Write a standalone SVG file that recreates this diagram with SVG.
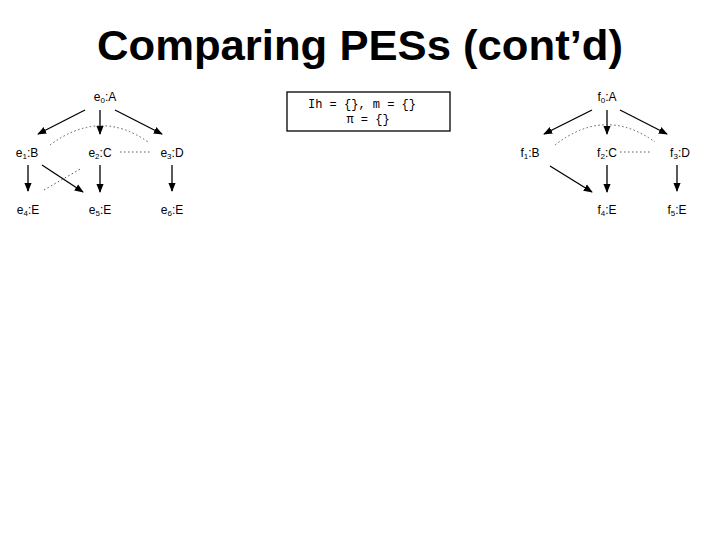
<svg xmlns="http://www.w3.org/2000/svg" width="720" height="540" viewBox="0 0 720 540">
<defs><marker id="ah" viewBox="0 0 10 10" refX="9" refY="5" markerWidth="7" markerHeight="7" orient="auto"><path d="M0,1 L10,5 L0,9 Z" fill="#000"/></marker></defs>
<style>
.n{font-family:"Liberation Sans",Arial,sans-serif;font-size:12px;fill:#000;text-anchor:middle}
.a{stroke:#000;stroke-width:1.3;fill:none;marker-end:url(#ah)}
.d{stroke:#555;stroke-width:1;stroke-dasharray:1.5 2.5;fill:none}
</style>
<rect width="720" height="540" fill="#fff"/>
<text x="360" y="60" font-family="Liberation Sans,Arial,sans-serif" font-size="42" font-weight="bold" text-anchor="middle" textLength="526" lengthAdjust="spacingAndGlyphs">Comparing PESs (cont’d)</text>
<g id="connectors">
<line class="a" x1="85" y1="110" x2="38" y2="134"/>
<line class="a" x1="100" y1="110" x2="100" y2="134"/>
<line class="a" x1="115" y1="110" x2="162" y2="134"/>
<line class="a" x1="28" y1="165" x2="28" y2="191"/>
<line class="a" x1="42" y1="165" x2="83" y2="192"/>
<line class="a" x1="100" y1="165" x2="100" y2="192"/>
<line class="a" x1="172" y1="165" x2="172" y2="191"/>
<path class="d" d="M50,145 Q100,108 148,142"/>
<line class="d" x1="120" y1="152" x2="150" y2="152"/>
<line class="d" x1="44" y1="190" x2="82" y2="168"/>
<line class="a" x1="592" y1="110" x2="544" y2="134"/>
<line class="a" x1="607" y1="110" x2="607" y2="134"/>
<line class="a" x1="620" y1="110" x2="667" y2="134"/>
<line class="a" x1="550" y1="166" x2="592" y2="192"/>
<line class="a" x1="607" y1="165" x2="607" y2="192"/>
<line class="a" x1="677" y1="165" x2="677" y2="191"/>
<path class="d" d="M555,145 Q605,106 655,142"/>
<line class="d" x1="620" y1="152" x2="650" y2="152"/>
</g>
<g id="e0"><text class="n" x="105" y="101">e<tspan font-size="8" dy="2">0</tspan><tspan dy="-2">:A</tspan></text></g>
<g id="e1"><text class="n" x="27" y="157">e<tspan font-size="8" dy="2">1</tspan><tspan dy="-2">:B</tspan></text></g>
<g id="e2"><text class="n" x="100" y="157">e<tspan font-size="8" dy="2">2</tspan><tspan dy="-2">:C</tspan></text></g>
<g id="e3"><text class="n" x="172" y="157">e<tspan font-size="8" dy="2">3</tspan><tspan dy="-2">:D</tspan></text></g>
<g id="e4"><text class="n" x="28" y="214">e<tspan font-size="8" dy="2">4</tspan><tspan dy="-2">:E</tspan></text></g>
<g id="e5"><text class="n" x="100" y="214">e<tspan font-size="8" dy="2">5</tspan><tspan dy="-2">:E</tspan></text></g>
<g id="e6"><text class="n" x="172" y="214">e<tspan font-size="8" dy="2">6</tspan><tspan dy="-2">:E</tspan></text></g>
<g id="box"><rect x="287" y="92" width="163" height="39" fill="#fff" stroke="#000" stroke-width="1.3"/>
<text x="362" y="108" font-family="Liberation Mono,monospace" font-size="12" text-anchor="middle" xml:space="preserve">Ih = {}, m = {}</text>
<text x="368" y="123" font-family="Liberation Mono,monospace" font-size="12" text-anchor="middle">π = {}</text></g>
<g id="f0"><text class="n" x="607" y="101">f<tspan font-size="8" dy="2">0</tspan><tspan dy="-2">:A</tspan></text></g>
<g id="f1"><text class="n" x="530" y="157">f<tspan font-size="8" dy="2">1</tspan><tspan dy="-2">:B</tspan></text></g>
<g id="f2"><text class="n" x="607" y="157">f<tspan font-size="8" dy="2">2</tspan><tspan dy="-2">:C</tspan></text></g>
<g id="f3"><text class="n" x="680" y="157">f<tspan font-size="8" dy="2">3</tspan><tspan dy="-2">:D</tspan></text></g>
<g id="f4"><text class="n" x="607" y="214">f<tspan font-size="8" dy="2">4</tspan><tspan dy="-2">:E</tspan></text></g>
<g id="f5"><text class="n" x="677" y="214">f<tspan font-size="8" dy="2">5</tspan><tspan dy="-2">:E</tspan></text></g>
</svg>
